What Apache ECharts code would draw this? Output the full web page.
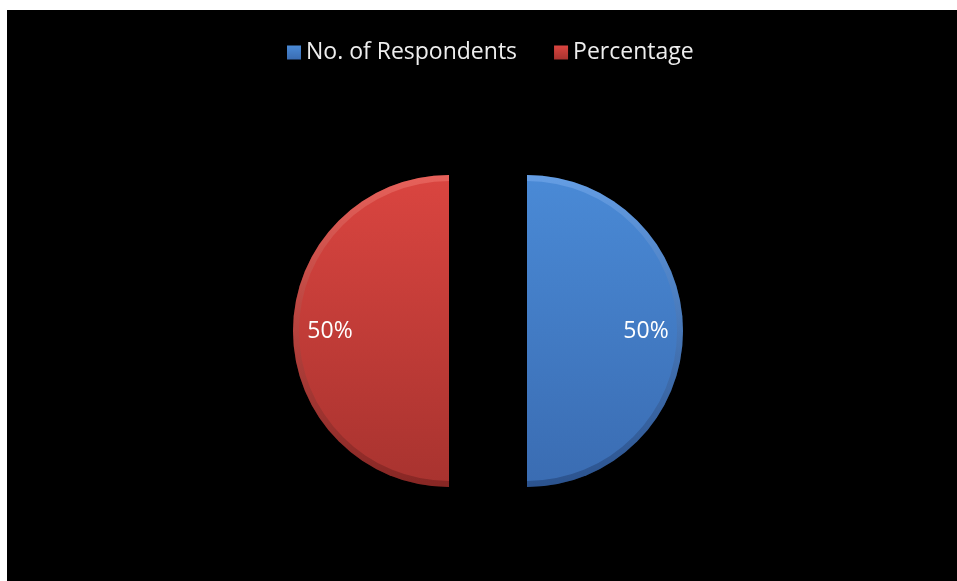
<!DOCTYPE html>
<html>
<head>
<meta charset="utf-8">
<script src="https://cdn.jsdelivr.net/npm/echarts@6/dist/echarts.min.js"></script>
<style>
  html, body { margin: 0; padding: 0; background: #ffffff; width: 957px; height: 581px; overflow: hidden; }
  #chart { position: absolute; left: 7px; top: 10px; width: 950px; height: 571px; background: #000000; }
</style>
</head>
<body>
<div id="chart"></div>
<script>
// Respondent split
const categories = ['No. of Respondents', 'Percentage'];
const values = [50, 50];

// Two-stop vertical shading for each slice (top colour, bottom colour)
const sliceColors = [
  ['#4a8ad6', '#3a6cb2'],
  ['#da4540', '#a8332f']
];
const rimColors = [
  ['rgba(150,195,255,0.35)', 'rgba(10,25,60,0.3)'],
  ['rgba(255,150,140,0.35)', 'rgba(60,10,10,0.3)']
];

function vGrad(pair) {
  return new echarts.graphic.LinearGradient(0, 0, 0, 1, [
    { offset: 0, color: pair[0] },
    { offset: 1, color: pair[1] }
  ]);
}

const chart = echarts.init(document.getElementById('chart'), null, { renderer: 'canvas' });

const FONT = '"Open Sans", "Noto Sans", sans-serif';
const CENTER = [481, 321];
const RADIUS = 156;
const EXPLODE = 39;

function sliceData(colors) {
  return categories.map((name, i) => ({
    name: name,
    value: values[i],
    selected: true,
    itemStyle: { color: colors ? vGrad(colors[i]) : 'rgba(0,0,0,0)' },
    select: { itemStyle: { color: colors ? vGrad(colors[i]) : 'rgba(0,0,0,0)', borderWidth: 0 } }
  }));
}

const common = {
  type: 'pie',
  center: CENTER,
  startAngle: 90,
  clockwise: true,
  selectedMode: 'multiple',
  selectedOffset: EXPLODE,
  avoidLabelOverlap: false,
  emphasis: { disabled: true },
  itemStyle: { borderWidth: 0 },
  labelLine: { show: false }
};

chart.setOption({
  backgroundColor: '#000000',
  animation: false,
  legend: {
    data: categories,
    left: 280,
    top: 31,
    padding: 0,
    icon: 'rect',
    itemWidth: 14,
    itemHeight: 14,
    itemGap: 37,
    textStyle: { color: '#eeeeee', fontFamily: FONT, fontSize: 23 },
    selectedMode: false
  },
  series: [
    Object.assign({}, common, {
      name: 'slices',
      radius: RADIUS,
      label: { show: false },
      data: sliceData(sliceColors),
      z: 1
    }),
    Object.assign({}, common, {
      // soft bevel along the curved rim
      name: 'rim',
      radius: [RADIUS - 6, RADIUS],
      silent: true,
      label: { show: false },
      data: sliceData(rimColors),
      z: 2
    }),
    Object.assign({}, common, {
      // transparent ring that carries the percentage labels near the outer edge
      name: 'labels',
      radius: [76, RADIUS],
      silent: true,
      label: {
        show: true,
        position: 'inside',
        formatter: '{d}%',
        color: '#ffffff',
        fontFamily: FONT,
        fontSize: 23
      },
      data: sliceData(null),
      z: 3
    })
  ]
});
</script>
</body>
</html>
